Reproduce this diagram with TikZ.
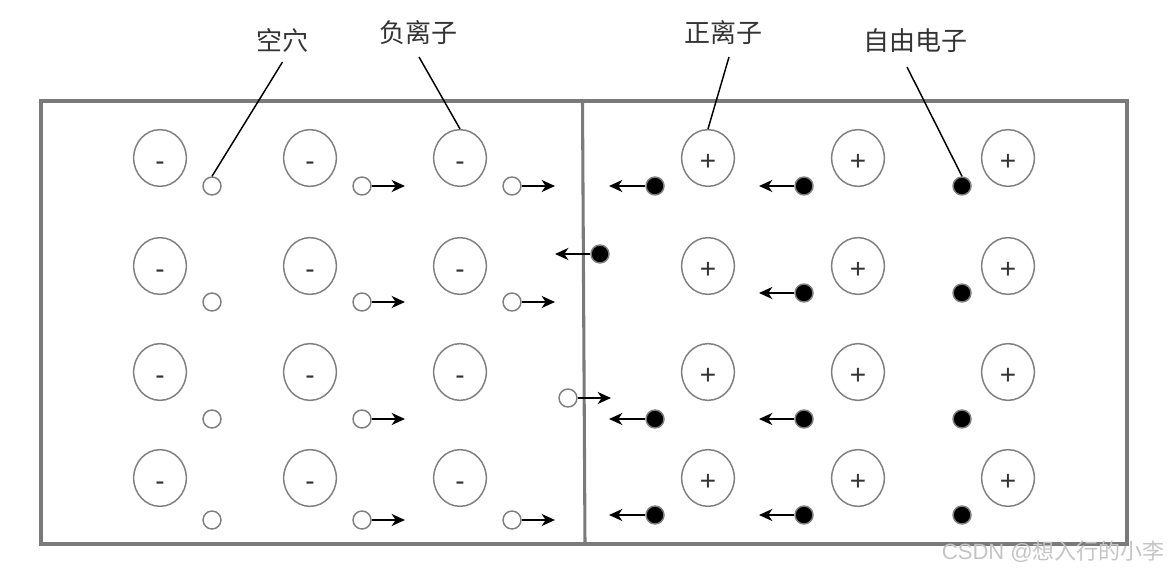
\documentclass[tikz,border=0pt]{standalone}
\usepackage{fontspec}
\setmainfont{Liberation Sans}
\newfontfamily\cjk{Noto Sans CJK SC}
\usetikzlibrary{arrows.meta,shapes.geometric}
\definecolor{ringgray}{HTML}{7F7F7F}
\definecolor{framegray}{HTML}{7A7A7A}
\definecolor{txt}{HTML}{333333}
\definecolor{wm}{HTML}{C4C4C4}
\begin{document}
\begin{tikzpicture}[x=0.75pt,y=-0.75pt,
 ion/.style={ellipse,draw=ringgray,line width=1.1pt,minimum width=39.5pt,minimum height=42.5pt,inner sep=0pt,font=\fontsize{21}{21}\selectfont,text=txt,text height=18.5pt,text depth=0pt},
 hole/.style={circle,draw=ringgray,line width=1.1pt,fill=white,minimum size=13.5pt,inner sep=0pt},
 elec/.style={circle,draw=ringgray,line width=1.1pt,fill=black,minimum size=13.5pt,inner sep=0pt},
 mv/.style={-{Stealth[length=10pt,width=9pt,inset=3pt]},line width=1.5pt},
 lead/.style={line width=1.1pt},
 frame/.style={draw=framegray,line width=2.3pt},
 lbl/.style={font=\cjk\fontsize{19.5}{20}\selectfont,text=txt}
]
\useasboundingbox (0,0) rectangle (1168,574);
% frame and junction
\draw[frame] (41,101) rectangle (1127,544);
\draw[frame] (582.5,101) -- (585,544);
% negative ions
\foreach \c/\x in {1/160,2/310,3/460}
  \foreach \r/\y in {1/158,2/266,3/372,4/478}
    \node[ion] (n\r\c) at (\x,\y) {-};
% positive ions
\foreach \c/\x in {1/708,2/858,3/1008}
  \foreach \r/\y in {1/158,2/266,3/372,4/478}
    \node[ion] (p\r\c) at (\x,\y) {+};
% holes without motion
\foreach \n/\x/\y in {h11/212/186,h21/212/302,h31/212/419,h41/212/520}
  \node[hole] (\n) at (\x,\y) {};
% holes moving right
\foreach \n/\x/\y/\t in {h12/362/186/405,h13/512/186/555,h22/362/302/405,h23/512/302/555,h32/362/419/405,hx/568/398/611,h42/362/520/405,h43/512/520/555}
{
  \node[hole] (\n) at (\x,\y) {};
  \coordinate (\n t) at (\t,\y);
  \draw[mv] (\n) -- (\n t);
}
% electrons without motion
\foreach \n/\x/\y in {e13/962/186,e23/962/293,e33/962/419,e43/962/515}
  \node[elec] (\n) at (\x,\y) {};
% electrons moving left
\foreach \n/\x/\y/\t in {e11/655/186/609,e12/804/186/759,ex/600/254/555,e22/804/293/759,e31/655/419/609,e32/804/419/759,e41/655/515/609,e42/804/515/759}
{
  \node[elec] (\n) at (\x,\y) {};
  \coordinate (\n t) at (\t,\y);
  \draw[mv] (\n) -- (\n t);
}
% labels
\node[lbl] (L1) at (282,41) {空穴};
\node[lbl] (L2) at (418,33) {负离子};
\node[lbl] (L3) at (723,33) {正离子};
\node[lbl] (L4) at (915,41) {自由电子};
\coordinate (L1a) at (282.5,62);
\coordinate (L2a) at (419,57);
\coordinate (L3a) at (729,57);
\coordinate (L4a) at (907,67);
\draw[lead] (L1a) -- (h11.north);
\draw[lead] (L2a) -- (n13.north);
\draw[lead] (L3a) -- (p11.north);
\draw[lead] (L4a) -- (e13.north);
% watermark
\node[text=wm,font=\fontsize{16.5}{17}\selectfont,anchor=east,inner sep=0pt] (wmk) at (1165,552) {CSDN @{\cjk 想入行的小李}};
\end{tikzpicture}
\end{document}
